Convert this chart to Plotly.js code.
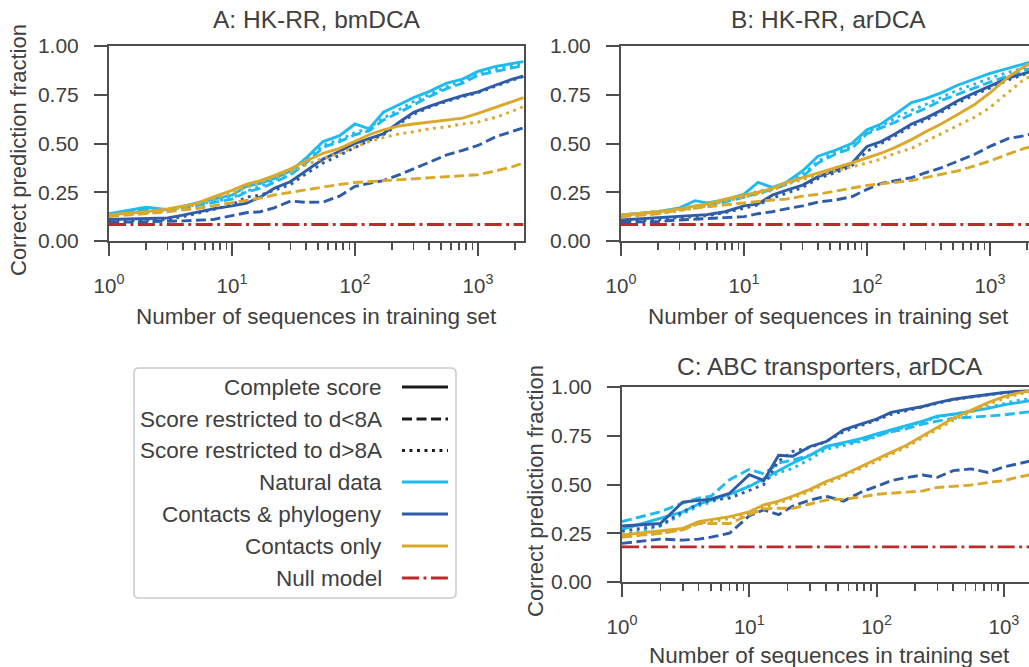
<!DOCTYPE html>
<html>
<head>
<meta charset="utf-8">
<script src="https://cdn.plot.ly/plotly-3.0.1.min.js"></script>
<style>
html, body { margin:0; padding:0; overflow:hidden; background:#fff; }
#chart { width:1037px; height:667px; }
</style>
</head>
<body>
<div id="chart"></div>
<script>
// ---------------- DATA ----------------
const X_AB = [1,2,3,4,5,7,10,13,17,22,30,40,55,75,100,130,170,230,300,400,550,750,1000,1400,1900,2340];
const X_C  = [1,2,3,4,5,7,10,13,17,22,30,40,55,75,100,130,170,230,300,400,550,750,1000,1250,1600];

// Panel A: HK-RR, bmDCA
const natA_full = [.14,.173,.16,.18,.193,.214,.235,.279,.296,.32,.36,.425,.51,.54,.60,.575,.66,.70,.735,.766,.808,.83,.87,.895,.91,.92];
const natA_lt8  = [.13,.16,.155,.17,.18,.20,.215,.25,.27,.30,.34,.40,.48,.51,.545,.565,.62,.66,.70,.74,.78,.81,.85,.87,.89,.90];
const natA_gt8  = [.135,.165,.16,.175,.185,.205,.22,.255,.28,.31,.35,.41,.49,.52,.555,.58,.63,.675,.715,.75,.79,.82,.86,.88,.90,.91];
const cpA_full  = [.11,.113,.118,.133,.145,.165,.18,.193,.225,.27,.305,.36,.42,.46,.50,.525,.55,.61,.66,.69,.72,.745,.765,.80,.83,.845];
const cpA_lt8   = [.095,.098,.10,.103,.106,.11,.13,.145,.15,.17,.205,.198,.20,.23,.28,.295,.31,.34,.37,.40,.44,.465,.49,.535,.56,.58];
const cpA_gt8   = [.10,.105,.11,.125,.14,.16,.185,.225,.235,.26,.29,.345,.40,.44,.48,.515,.545,.60,.65,.685,.715,.74,.76,.795,.825,.845];
const coA_full  = [.135,.15,.165,.18,.19,.225,.26,.29,.31,.335,.37,.41,.45,.475,.51,.545,.57,.59,.60,.61,.62,.63,.655,.685,.715,.735];
const coA_lt8   = [.125,.14,.15,.16,.165,.18,.195,.205,.22,.236,.25,.26,.275,.29,.30,.305,.31,.315,.32,.325,.33,.335,.34,.36,.38,.40];
const coA_gt8   = [.13,.145,.16,.175,.185,.215,.245,.275,.30,.325,.355,.39,.425,.45,.48,.51,.53,.55,.56,.575,.585,.60,.61,.635,.665,.69];
const nullA = 0.085;

// Panel B: HK-RR, arDCA
const natB_full = [.133,.15,.17,.207,.195,.21,.24,.30,.275,.30,.36,.435,.465,.50,.57,.60,.65,.71,.73,.76,.80,.83,.86,.885,.91,.925];
const natB_lt8  = [.125,.145,.16,.175,.185,.20,.225,.245,.265,.29,.33,.40,.445,.475,.55,.58,.61,.65,.68,.72,.755,.785,.815,.845,.875,.895];
const natB_gt8  = [.13,.15,.165,.18,.19,.205,.23,.255,.27,.295,.34,.41,.455,.485,.56,.59,.63,.67,.70,.735,.775,.805,.835,.865,.89,.905];
const cpB_full  = [.108,.118,.125,.13,.135,.15,.18,.19,.235,.26,.287,.33,.36,.398,.485,.51,.55,.60,.63,.67,.72,.76,.795,.835,.86,.875];
const cpB_lt8   = [.096,.10,.108,.11,.115,.12,.125,.14,.15,.165,.18,.20,.21,.227,.265,.295,.31,.325,.35,.375,.41,.445,.485,.525,.54,.555];
const cpB_gt8   = [.10,.11,.12,.125,.13,.145,.17,.185,.22,.245,.275,.32,.35,.385,.46,.50,.54,.59,.62,.66,.71,.75,.785,.825,.855,.87];
const coB_full  = [.133,.15,.165,.18,.19,.215,.235,.25,.27,.30,.325,.35,.375,.40,.425,.45,.48,.52,.56,.60,.65,.70,.76,.84,.895,.925];
const coB_lt8   = [.125,.14,.16,.17,.175,.185,.195,.205,.21,.215,.23,.24,.255,.27,.285,.293,.30,.31,.325,.34,.36,.385,.41,.445,.475,.49];
const coB_gt8   = [.125,.14,.155,.17,.18,.205,.225,.24,.26,.29,.315,.34,.36,.38,.40,.42,.45,.475,.51,.55,.59,.635,.685,.76,.83,.855];
const nullB = 0.085;

// Panel C: ABC transporters, arDCA
const natC_full = [.27,.325,.36,.40,.42,.45,.49,.53,.57,.61,.65,.695,.715,.735,.76,.78,.80,.825,.85,.86,.875,.89,.908,.92,.93];
const natC_lt8  = [.31,.36,.405,.43,.44,.525,.578,.555,.61,.625,.65,.69,.71,.725,.75,.77,.785,.81,.825,.84,.845,.85,.857,.865,.873];
const natC_gt8  = [.24,.287,.35,.39,.41,.44,.495,.52,.56,.583,.63,.68,.70,.72,.745,.775,.795,.82,.845,.86,.875,.895,.915,.93,.94];
const cpC_full  = [.287,.30,.41,.42,.425,.455,.55,.52,.65,.645,.695,.72,.78,.81,.835,.87,.885,.90,.92,.937,.95,.962,.972,.977,.98];
const cpC_lt8   = [.198,.22,.215,.22,.23,.25,.34,.37,.345,.39,.42,.44,.415,.46,.49,.52,.535,.549,.537,.571,.58,.562,.59,.605,.62];
const cpC_gt8   = [.26,.29,.36,.40,.42,.43,.47,.50,.62,.67,.69,.72,.77,.80,.83,.86,.878,.895,.915,.935,.948,.96,.97,.975,.98];
const coC_full  = [.241,.26,.275,.31,.32,.335,.36,.395,.415,.44,.475,.515,.55,.59,.63,.665,.70,.75,.79,.84,.88,.92,.95,.967,.98];
const coC_lt8   = [.23,.25,.267,.30,.30,.30,.345,.375,.378,.378,.40,.42,.425,.435,.45,.455,.46,.467,.485,.49,.497,.51,.52,.535,.55];
const coC_gt8   = [.23,.25,.27,.30,.31,.325,.35,.385,.405,.43,.465,.505,.54,.58,.62,.655,.69,.74,.78,.83,.87,.91,.94,.96,.975];
const nullC = 0.18;

const panelTitles = ['A: HK-RR, bmDCA', 'B: HK-RR, arDCA', 'C: ABC transporters, arDCA'];
const xTitle = 'Number of sequences in training set';
const yTitle = 'Correct prediction fraction';
const xTickVals = [1, 10, 100, 1000];
const xTickText = ['10<sup>0</sup>', '10<sup>1</sup>', '10<sup>2</sup>', '10<sup>3</sup>'];
const yTickVals = [0, 0.25, 0.5, 0.75, 1.0];
const legendLabels = ['Complete score', 'Score restricted to d<8A', 'Score restricted to d>8A',
                      'Natural data', 'Contacts & phylogeny', 'Contacts only', 'Null model'];

// ---------------- STYLE ----------------
const W = 1037, H = 667;
const FONT = 'Liberation Sans, Arial, Helvetica, sans-serif';
const TXT = '#404040';
const SPINE = '#4d4d4d';
const C_NAT = '#1fbaef', C_CP = '#2e5ca9', C_CO = '#daa92c', C_NULL = '#bd2a2a';
const LW = 2.9;
const DASH = {full: 'solid', lt8: '10px,4.5px', gt8: '2.9px,4.6px', nul: '17px,4.5px,2.9px,4.5px'};

const px = v => v / W;
const py = v => 1 - v / H;

const traces = [];
function addPanel(X, sets, nullVal, xa, ya) {
  for (const s of sets) {
    for (const k of ['full', 'lt8', 'gt8']) {
      traces.push({x: X, y: s[k], type: 'scatter', mode: 'lines', xaxis: xa, yaxis: ya,
        line: {color: s.color, width: LW, dash: DASH[k]}, showlegend: false, hoverinfo: 'skip'});
    }
  }
  traces.push({x: [X[0], X[X.length - 1]], y: [nullVal, nullVal], type: 'scatter', mode: 'lines',
    xaxis: xa, yaxis: ya, line: {color: C_NULL, width: LW, dash: DASH.nul}, showlegend: false, hoverinfo: 'skip'});
}
addPanel(X_AB, [
  {color: C_NAT, full: natA_full, lt8: natA_lt8, gt8: natA_gt8},
  {color: C_CP,  full: cpA_full,  lt8: cpA_lt8,  gt8: cpA_gt8},
  {color: C_CO,  full: coA_full,  lt8: coA_lt8,  gt8: coA_gt8}], nullA, 'x', 'y');
addPanel(X_AB, [
  {color: C_NAT, full: natB_full, lt8: natB_lt8, gt8: natB_gt8},
  {color: C_CP,  full: cpB_full,  lt8: cpB_lt8,  gt8: cpB_gt8},
  {color: C_CO,  full: coB_full,  lt8: coB_lt8,  gt8: coB_gt8}], nullB, 'x2', 'y2');
addPanel(X_C, [
  {color: C_NAT, full: natC_full, lt8: natC_lt8, gt8: natC_gt8},
  {color: C_CP,  full: cpC_full,  lt8: cpC_lt8,  gt8: cpC_gt8},
  {color: C_CO,  full: coC_full,  lt8: coC_lt8,  gt8: coC_gt8}], nullC, 'x3', 'y3');

const minorVals = [];
for (const d of [1, 10, 100, 1000]) for (let m = 2; m <= 9; m++) minorVals.push(m * d);

function xAxis(dom, rng, anchor) {
  return {type: 'log', domain: dom, range: rng, anchor: anchor,
    showline: true, linecolor: SPINE, linewidth: 2, mirror: true,
    ticks: 'outside', ticklen: 13, tickwidth: 2, tickcolor: SPINE,
    tickvals: xTickVals, ticktext: xTickText, ticklabelstandoff: 12,
    minor: {tickvals: minorVals, ticks: 'outside', ticklen: 7, tickwidth: 1.6, tickcolor: SPINE, showgrid: false},
    showgrid: false, zeroline: false, fixedrange: true,
    tickfont: {family: FONT, size: 20.5, color: TXT}};
}
function yAxis(dom, anchor) {
  return {domain: dom, range: [0, 1], anchor: anchor,
    showline: true, linecolor: SPINE, linewidth: 2, mirror: true,
    ticks: 'outside', ticklen: 13, tickwidth: 2, tickcolor: SPINE,
    tickvals: yTickVals, tickformat: '.2f', ticklabelstandoff: 11,
    showgrid: false, zeroline: false, fixedrange: true,
    tickfont: {family: FONT, size: 21, color: TXT}};
}

const annotations = [];
function txt(t, x, y, size, opts) {
  annotations.push(Object.assign({text: t, x: px(x), y: py(y), xref: 'paper', yref: 'paper',
    showarrow: false, xanchor: 'center', yanchor: 'middle',
    font: {family: FONT, size: size, color: TXT}}, opts || {}));
}
// Panel titles
txt(panelTitles[0], 316.5, 19, 24.5);
txt(panelTitles[1], 828.5, 19, 24.5);
txt(panelTitles[2], 829.5, 366, 24.5);
// Axis titles
txt(xTitle, 316.5, 317, 22.5);
txt(xTitle, 828.5, 317, 22.5);
txt(xTitle, 829.5, 655, 22.5);
txt(yTitle, 18, 150, 22, {textangle: -90});
txt(yTitle, 535, 491, 22, {textangle: -90});

// Legend (text right-aligned, sample line to the right)
const shapes = [];
const legRows = [387, 419, 450.5, 482, 514, 546, 578];
const legStyles = [
  {color: '#1a1a1a', dash: DASH.full}, {color: '#1a1a1a', dash: DASH.lt8}, {color: '#1a1a1a', dash: DASH.gt8},
  {color: C_NAT, dash: DASH.full}, {color: C_CP, dash: DASH.full}, {color: C_CO, dash: DASH.full},
  {color: C_NULL, dash: DASH.nul}];
// rounded box
(function () {
  const x0 = 134, x1 = 456, y0 = 368, y1 = 598, r = 5;
  const P = (x, y) => px(x) + ',' + py(y);
  const path = 'M' + P(x0 + r, y0) + ' L' + P(x1 - r, y0) + ' Q' + P(x1, y0) + ' ' + P(x1, y0 + r) +
    ' L' + P(x1, y1 - r) + ' Q' + P(x1, y1) + ' ' + P(x1 - r, y1) +
    ' L' + P(x0 + r, y1) + ' Q' + P(x0, y1) + ' ' + P(x0, y1 - r) +
    ' L' + P(x0, y0 + r) + ' Q' + P(x0, y0) + ' ' + P(x0 + r, y0) + ' Z';
  shapes.push({type: 'path', path: path, xref: 'paper', yref: 'paper',
    line: {color: '#cccccc', width: 1.6}, fillcolor: 'rgba(255,255,255,0.8)'});
})();
legendLabels.forEach((lab, i) => {
  txt(lab.replace(/</g, '&lt;').replace(/>/g, '&gt;'), 384, legRows[i], 22.5, {xanchor: 'right'});
  shapes.push({type: 'line', xref: 'paper', yref: 'paper', x0: px(402), x1: px(448),
    y0: py(legRows[i]), y1: py(legRows[i]), line: {color: legStyles[i].color, width: LW, dash: legStyles[i].dash}});
});

const layout = {
  width: W, height: H, margin: {l: 0, r: 0, t: 0, b: 0, pad: 0},
  paper_bgcolor: '#fff', plot_bgcolor: '#fff', showlegend: false,
  font: {family: FONT, color: TXT},
  xaxis:  xAxis([px(109), px(524)], [0, 3.374], 'y'),
  yaxis:  yAxis([py(241), py(46)], 'x'),
  xaxis2: xAxis([px(621), px(1036)], [0, 3.374], 'y2'),
  yaxis2: yAxis([py(241), py(46)], 'x2'),
  xaxis3: xAxis([px(622), 1.0], [0, 3.26], 'y3'),
  yaxis3: yAxis([py(582), py(387)], 'x3'),
  annotations: annotations, shapes: shapes
};

Plotly.newPlot('chart', traces, layout, {displayModeBar: false, staticPlot: true});
</script>
</body>
</html>
